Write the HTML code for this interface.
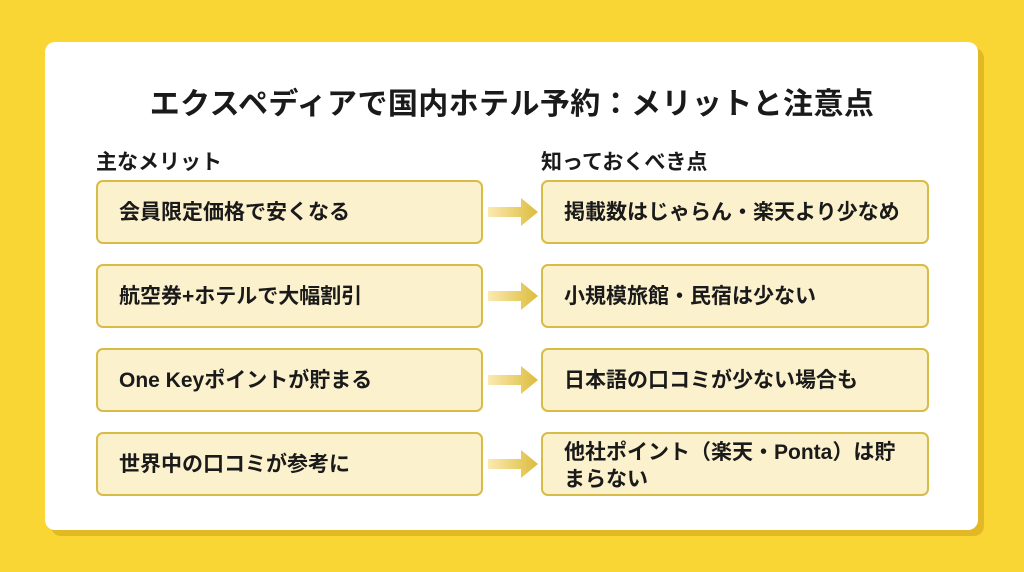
<!DOCTYPE html>
<html><head><meta charset="utf-8"><style>
body{margin:0;width:1024px;height:572px;background:#f9d634;position:relative;overflow:hidden;font-family:"Liberation Sans","Noto Sans CJK JP",sans-serif;color:#1a1a1a}
.shadow{position:absolute;left:51px;top:48px;width:933px;height:488px;background:#e2b925;border-radius:10px}
.card{position:absolute;left:45px;top:42px;width:933px;height:488px;background:#fff;border-radius:10px}
.title{position:absolute;left:0;width:1024px;top:79px;text-align:center;font-size:30px;font-weight:bold;letter-spacing:0.4px}
.h{position:absolute;top:146px;font-size:21px;font-weight:bold}
.box{position:absolute;width:387px;height:64px;background:#fcf1cd;border:2.5px solid #d8bc48;border-radius:7px;box-sizing:border-box;display:flex;align-items:center;padding-left:21px;font-size:21px;font-weight:bold;line-height:27px}
.l{left:96px}.r{left:541px;width:388px}
.arr{position:absolute;left:488px;width:50px;height:28px}
</style></head><body>
<div class="shadow"></div><div class="card"></div>
<div class="title">エクスペディアで国内ホテル予約：メリットと注意点</div>
<div class="h" style="left:96px">主なメリット</div>
<div class="h" style="left:541px">知っておくべき点</div>

<div class="box l" style="top:180px">会員限定価格で安くなる</div>
<div class="box l" style="top:264px">航空券+ホテルで大幅割引</div>
<div class="box l" style="top:348px">One Keyポイントが貯まる</div>
<div class="box l" style="top:432px">世界中の口コミが参考に</div>

<div class="box r" style="top:180px">掲載数はじゃらん・楽天より少なめ</div>
<div class="box r" style="top:264px">小規模旅館・民宿は少ない</div>
<div class="box r" style="top:348px">日本語の口コミが少ない場合も</div>
<div class="box r" style="top:432px;padding-top:3px">他社ポイント（楽天・Ponta）は貯<br>まらない</div>

<svg width="0" height="0" style="position:absolute"><defs><linearGradient id="g" x1="0" x2="1"><stop offset="0" stop-color="#fbeab0"/><stop offset="1" stop-color="#dcbc3c"/></linearGradient></defs></svg>
<svg class="arr" style="top:198px" viewBox="0 0 50 28"><polygon points="0,9 33,9 33,0 50,14 33,28 33,19 0,19" fill="url(#g)"/></svg>
<svg class="arr" style="top:282px" viewBox="0 0 50 28"><polygon points="0,9 33,9 33,0 50,14 33,28 33,19 0,19" fill="url(#g)"/></svg>
<svg class="arr" style="top:366px" viewBox="0 0 50 28"><polygon points="0,9 33,9 33,0 50,14 33,28 33,19 0,19" fill="url(#g)"/></svg>
<svg class="arr" style="top:450px" viewBox="0 0 50 28"><polygon points="0,9 33,9 33,0 50,14 33,28 33,19 0,19" fill="url(#g)"/></svg>
</body></html>
